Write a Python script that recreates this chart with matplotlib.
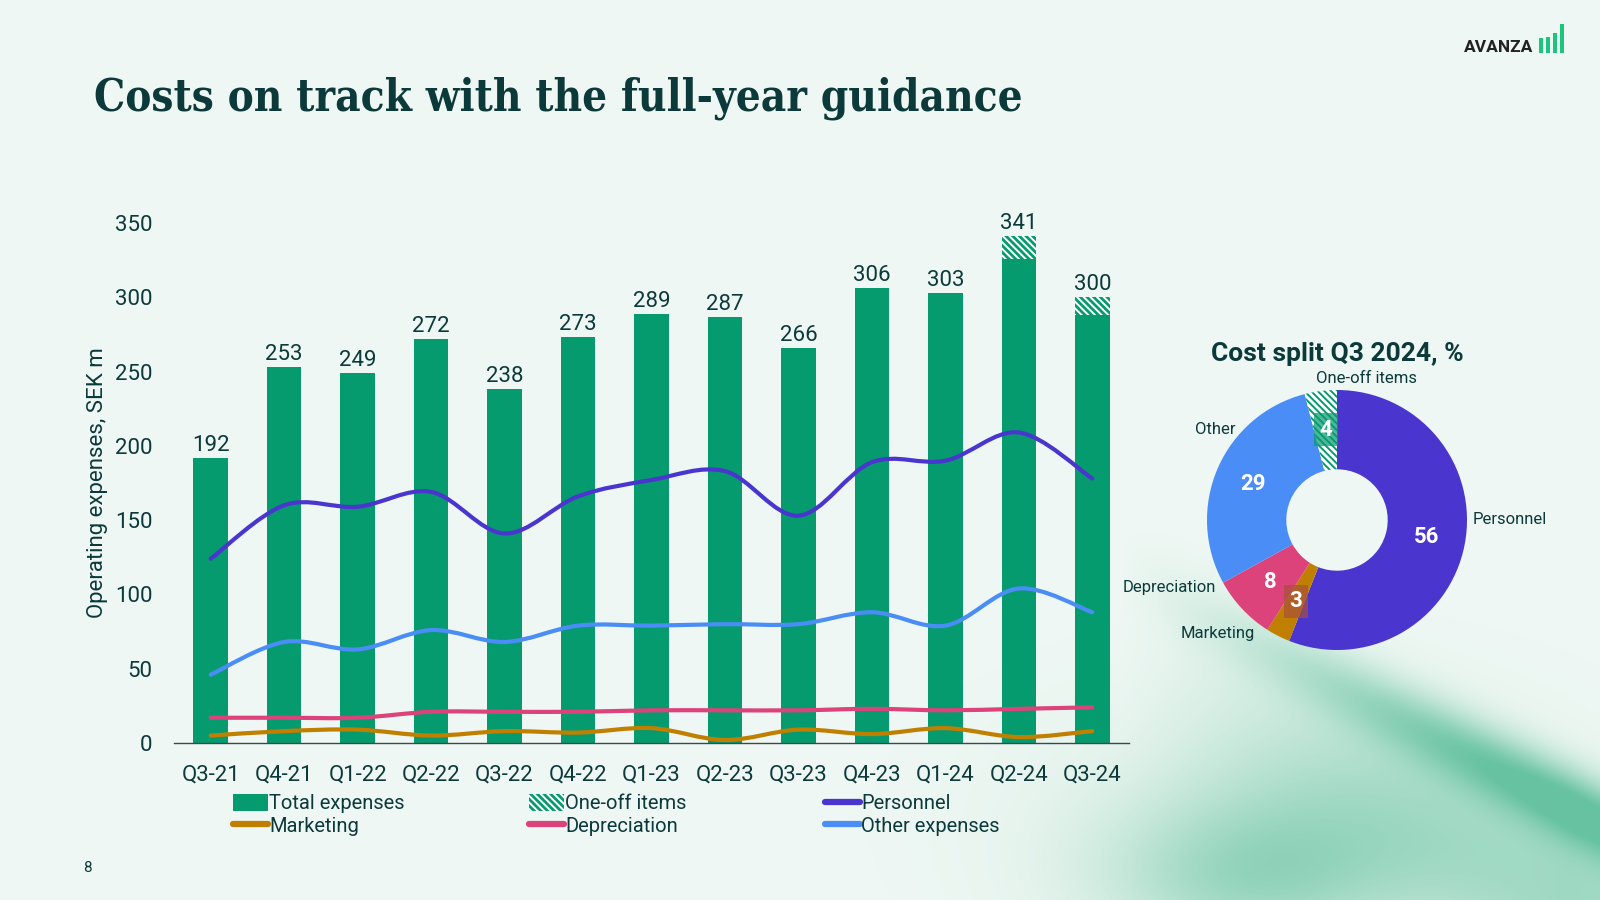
import numpy as np
import matplotlib
matplotlib.use("Agg")
import matplotlib.pyplot as plt
from matplotlib.path import Path
from matplotlib.patches import PathPatch, Patch, Rectangle
from matplotlib.lines import Line2D

# ---- data ----
quarters = ["Q3-21", "Q4-21", "Q1-22", "Q2-22", "Q3-22", "Q4-22", "Q1-23",
            "Q2-23", "Q3-23", "Q4-23", "Q1-24", "Q2-24", "Q3-24"]
total_expenses = [192, 253, 249, 272, 238, 273, 289, 287, 266, 306, 303, 341, 300]
one_off_items = [0, 0, 0, 0, 0, 0, 0, 0, 0, 0, 0, 15, 12]
personnel = [124, 160, 159, 169, 141, 166, 177, 183, 153, 189, 190, 209, 178]
other_expenses = [46, 68, 63, 76, 68, 79, 79, 80, 80, 88, 79, 104, 88]
depreciation = [17, 17, 17, 21, 21, 21, 22, 22, 22, 23, 22, 23, 24]
marketing = [5, 8, 9, 5, 8, 7, 10, 2, 9, 6, 10, 4, 8]

pie_labels = ["Personnel", "Marketing", "Depreciation", "Other", "One-off items"]
pie_values = [56, 3, 8, 29, 4]

# ---- style ----
BG = "#eef7f3"
TXT = "#0c3a3b"
GREEN = "#069a6f"
C_PERS = "#4a35cf"
C_OTHER = "#4a8df6"
C_DEP = "#dc437a"
C_MKT = "#c17f00"
HATCH = "\\\\\\\\\\"

plt.rcParams["font.family"] = ["Roboto", "DejaVu Sans"]
plt.rcParams["hatch.linewidth"] = 1.4

fig = plt.figure(figsize=(16, 9), dpi=100, facecolor=BG)

# soft green swoosh in the lower right corner (decoration)
bg_ax = fig.add_axes([0, 0, 1, 1], zorder=-10)
gx, gy = np.meshgrid(np.linspace(0, 1600, 640), np.linspace(0, 900, 360))
ang = np.arctan2(190, 370)
d = -(gx - 1230) * np.sin(ang) + (gy - 610) * np.cos(ang)   # distance below the band line
w = np.clip((gx - 1120) / 450, 0, 1) ** 1.1
below = 1 / (1 + np.exp(-d / 12))
alpha = 0.72 * w * np.exp(-((d - 18) / 34) ** 2)
alpha += 0.45 * w * np.exp(-((d - 110) / 110) ** 2) * below
alpha += 0.38 * np.exp(-((gx - 1250) / 140) ** 2 - ((gy - 880) / 75) ** 2)
alpha += 0.18 * np.exp(-((gx - 1300) / 220) ** 2 - ((gy - 820) / 110) ** 2)
alpha = np.clip(alpha, 0, 0.8)
img = np.zeros(gx.shape + (4,))
img[..., 0], img[..., 1], img[..., 2] = 0.27, 0.71, 0.55
img[..., 3] = alpha
bg_ax.imshow(img, extent=[0, 1600, 900, 0], aspect="auto", interpolation="bilinear")
bg_ax.set_xlim(0, 1600)
bg_ax.set_ylim(900, 0)
bg_ax.axis("off")

# ---- title, logo, page number ----
fig.text(94 / 1600, 1 - 98 / 900, "Costs on track with the full-year guidance",
         family="DejaVu Serif", stretch="condensed", weight="bold", fontsize=31.5,
         color=TXT, va="center")
fig.text(1464 / 1600, 1 - 47 / 900, "AVANZA", weight="bold", fontsize=12.5,
         color="#222222", va="center")
for bx, top in zip([1539, 1546, 1553, 1560], [38, 37, 33, 24]):
    fig.add_artist(Rectangle((bx / 1600, 1 - 53 / 900), 3.8 / 1600, (53 - top) / 900,
                             transform=fig.transFigure, color="#1cc47d", lw=0))
fig.text(87 / 1600, 1 - 868 / 900, "8", fontsize=11, color=TXT, ha="center", va="center")

# ---- bar + line chart ----
ax = fig.add_axes([174 / 1600, 1 - 743 / 900, 955 / 1600, 520 / 900])
ax.set_facecolor("none")
x = np.arange(len(quarters))
solid = np.array(total_expenses) - np.array(one_off_items)
ax.bar(x, solid, width=0.47, color=GREEN, lw=0, zorder=2)
ax.bar(x, one_off_items, bottom=solid, width=0.47, facecolor=GREEN,
       edgecolor="white", hatch=HATCH, lw=0, zorder=2)
for xi, v in zip(x, total_expenses):
    ax.annotate(str(v), (xi, v), xytext=(0, 1.5), textcoords="offset points",
                ha="center", va="bottom", fontsize=16, color=TXT, annotation_clip=False)

def smooth_path(xs, ys):
    pts = np.column_stack([xs, ys]).astype(float)
    ext = np.vstack([pts[0], pts, pts[-1]])
    verts, codes = [pts[0]], [Path.MOVETO]
    for i in range(len(pts) - 1):
        p0, p1, p2, p3 = ext[i], ext[i + 1], ext[i + 2], ext[i + 3]
        verts += [p1 + (p2 - p0) / 6, p2 - (p3 - p1) / 6, p2]
        codes += [Path.CURVE4] * 3
    return Path(verts, codes)

for series, col in [(marketing, C_MKT), (depreciation, C_DEP),
                    (other_expenses, C_OTHER), (personnel, C_PERS)]:
    ax.add_patch(PathPatch(smooth_path(x, series), fill=False, edgecolor=col,
                           lw=3, capstyle="round", joinstyle="round", zorder=3))

ax.set_xlim(-0.5, len(quarters) - 0.5)
ax.set_ylim(0, 350)
ax.set_yticks(range(0, 351, 50))
ax.set_xticks(x)
ax.set_xticklabels(quarters)
ax.tick_params(axis="both", length=0, labelsize=16, labelcolor=TXT)
ax.tick_params(axis="y", pad=15.5)
ax.tick_params(axis="x", pad=15.5)
for s in ["top", "right", "left"]:
    ax.spines[s].set_visible(False)
ax.spines["bottom"].set_color("#3a4a4a")
ax.spines["bottom"].set_linewidth(1)
ax.set_ylabel("Operating expenses, SEK m", fontsize=16, color=TXT, labelpad=5)

# legend: three columns of two entries
h_total = Patch(facecolor=GREEN, lw=0)
h_one = Patch(facecolor=GREEN, edgecolor="white", hatch=HATCH, lw=0)
def lh(c):
    return Line2D([], [], color=c, lw=4.5, solid_capstyle="round")
cols = [([h_total, lh(C_MKT)], ["Total expenses", "Marketing"], 233),
        ([h_one, lh(C_DEP)], ["One-off items", "Depreciation"], 529),
        ([lh(C_PERS), lh(C_OTHER)], ["Personnel", "Other expenses"], 825)]
for hs, ls, px in cols:
    fig.legend(hs, ls, loc="upper left", bbox_to_anchor=(px / 1600, 1 - 794 / 900),
               frameon=False, fontsize=14.5, labelcolor=TXT, handlelength=1.75,
               handleheight=0.9, handletextpad=0.05, labelspacing=0.15,
               borderaxespad=0, borderpad=0)

# ---- donut ----
cx, cy, r = 1337, 520, 130
pax = fig.add_axes([(cx - r) / 1600, 1 - (cy + r) / 900, 2 * r / 1600, 2 * r / 900])
pax.set_facecolor("none")
pie_colors = [C_PERS, C_MKT, C_DEP, C_OTHER, "white"]
wedges, _ = pax.pie(pie_values, colors=pie_colors, startangle=90, counterclock=False,
                    radius=1, wedgeprops=dict(width=0.61, lw=0))
wedges[-1].set_facecolor("white")
wedges[-1].set_edgecolor(GREEN)
wedges[-1].set_hatch(HATCH)
pax.set_xlim(-1, 1)
pax.set_ylim(-1, 1)
pax.set_aspect("auto")
pax.axis("off")

box_colors = {"Marketing": "#a8503c", "One-off items": GREEN}
cum = np.cumsum([0] + pie_values[:-1])
for lab, v, c0 in zip(pie_labels, pie_values, cum):
    mid = np.deg2rad(90 - (c0 + v / 2) / sum(pie_values) * 360)
    bbox = None
    if lab in box_colors:
        bbox = dict(boxstyle="square,pad=0.25", facecolor=box_colors[lab], alpha=0.7, lw=0)
    pax.text(0.7 * np.cos(mid), 0.7 * np.sin(mid), str(v), ha="center", va="center",
             fontsize=16, weight="bold", color="white", bbox=bbox)

label_pos = {"One-off items": (0.23, 1.09, "center"), "Other": (-0.78, 0.70, "right"),
             "Personnel": (1.04, 0.0, "left"), "Depreciation": (-0.93, -0.52, "right"),
             "Marketing": (-0.63, -0.87, "right")}
for lab in pie_labels:
    lx, ly, ha = label_pos[lab]
    pax.text(lx, ly, lab, ha=ha, va="center", fontsize=12, color=TXT, clip_on=False)
pax.text(0, 1.28, "Cost split Q3 2024, %", ha="center", va="center", fontsize=19,
         weight="bold", color=TXT, clip_on=False)

fig.savefig("out.png", dpi=100, facecolor=BG)
